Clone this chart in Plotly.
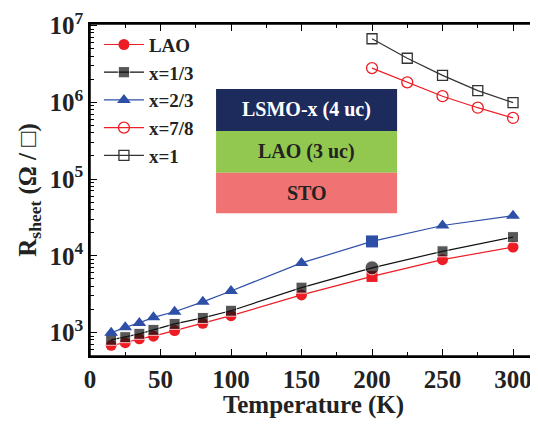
import plotly.graph_objects as go

temp_low = [15, 25, 35, 45, 60, 80, 100, 150, 200, 250, 300]
r_lao = [680, 736, 828, 897, 1060, 1318, 1656, 3090, 5380, 8900, 13000]
r_x13 = [804, 870, 962, 1083, 1295, 1550, 1923, 3845, 6970, 11430, 17500]
r_x23 = [990, 1170, 1334, 1578, 1866, 2510, 3480, 8070, 15380, 24800, 33300]

temp_high = [200, 225, 250, 275, 300]
r_x78 = [2.79e6, 1.82e6, 1.20e6, 8.5e5, 6.25e5]
r_x1 = [6.73e6, 3.75e6, 2.24e6, 1.42e6, 9.9e5]

x_ticks = [0, 50, 100, 150, 200, 250, 300]
y_ticks = [1e3, 1e4, 1e5, 1e6, 1e7]
y_ticktext = ["10<sup>3</sup>", "10<sup>4</sup>", "10<sup>5</sup>", "10<sup>6</sup>", "10<sup>7</sup>"]

layers = ["LSMO-x (4 uc)", "LAO (3 uc)", "STO"]

RED = "#ee1c25"
BLACK = "#111111"
BLUE = "#2e4fa8"
FONT = "Liberation Serif"
TXT = "#222222"

x_minor = [v + 25 for v in x_ticks]
y_minor = [m * 10 ** d for d in range(2, 7) for m in range(2, 10)]


def syms(base, alt):
    return [alt if t == 200 else base for t in temp_low]


fig = go.Figure()
fig.add_trace(go.Scatter(x=temp_low, y=r_lao, name="LAO", mode="lines+markers",
                         line=dict(color=RED, width=1.2),
                         marker=dict(symbol=syms("circle", "square"), size=11, color=RED)))
fig.add_trace(go.Scatter(x=temp_low, y=r_x13, name="x=1/3", mode="lines+markers",
                         line=dict(color=BLACK, width=1.2),
                         marker=dict(symbol=syms("square", "circle"),
                                     size=[14 if t == 200 else 11 for t in temp_low], color=BLACK)))
fig.add_trace(go.Scatter(x=temp_low, y=r_x23, name="x=2/3", mode="lines+markers",
                         line=dict(color=BLUE, width=1.2),
                         marker=dict(symbol=syms("triangle-up", "square"), size=12, color=BLUE)))
fig.add_trace(go.Scatter(x=temp_high, y=r_x78, name="x=7/8", mode="lines+markers",
                         line=dict(color=RED, width=1.2),
                         marker=dict(symbol="circle-open", size=11, color=RED, line=dict(width=1.3))))
fig.add_trace(go.Scatter(x=temp_high, y=r_x1, name="x=1", mode="lines+markers",
                         line=dict(color="#333333", width=1.2),
                         marker=dict(symbol="square-open", size=10, color="#333333", line=dict(width=1.3))))

# invisible first annotation (text measurement warm-up)
fig.add_annotation(xref="paper", yref="paper", x=0.5, y=0.5, text=" ", showarrow=False,
                   font=dict(family=FONT, size=20, weight="bold"))

# layer stack inset
box_colors = ["#1d2a5c", "#92c850", "#f07272"]
text_colors = ["white", TXT, TXT]
x0, x1 = 0.282, 0.687
tops = [0.804, 0.678, 0.552, 0.430]
for i, lab in enumerate(layers):
    fig.add_shape(type="rect", xref="paper", yref="paper", x0=x0, x1=x1,
                  y0=tops[i + 1], y1=tops[i], fillcolor=box_colors[i], line=dict(width=0))
    fig.add_annotation(xref="paper", yref="paper", x=(x0 + x1) / 2, y=(tops[i] + tops[i + 1]) / 2,
                       text=lab, showarrow=False, yanchor="middle",
                       font=dict(family=FONT, size=20, color=text_colors[i], weight="bold"))

# plot frame
fig.add_shape(type="rect", xref="paper", yref="paper", x0=0, x1=1, y0=0, y1=1,
              line=dict(color="black", width=1.5), fillcolor="rgba(0,0,0,0)")

axis_common = dict(showline=True, linecolor="#000000", linewidth=1.5,
                   ticks="inside", ticklen=7, tickwidth=1.3, tickcolor="#000000", mirror="allticks",
                   showgrid=False, zeroline=False, automargin=False, ticklabeloverflow="allow",
                   tickfont=dict(family=FONT, size=25, color=TXT, weight="bold"))

fig.update_xaxes(range=[0, 317], tickmode="array", tickvals=x_ticks,
                 title=dict(text="Temperature (K)", font=dict(family=FONT, size=25, color=TXT, weight="bold"), standoff=4),
                 minor=dict(ticks="inside", ticklen=4, tickwidth=1.2, tickcolor="black",
                            tickmode="array", tickvals=x_minor),
                 **axis_common)
fig.update_yaxes(type="log", range=[2.694, 7.02], tickmode="array", tickvals=y_ticks, ticktext=y_ticktext,
                 title=dict(text="R<sub>sheet</sub> (Ω / □)", font=dict(family=FONT, size=25, color=TXT, weight="bold"), standoff=6),
                 minor=dict(ticks="inside", ticklen=4, tickwidth=1.2, tickcolor="black",
                            tickmode="array", tickvals=y_minor),
                 **axis_common)

fig.update_layout(
    width=530, height=411,
    margin=dict(l=82, r=1, t=16, b=63),
    plot_bgcolor="white", paper_bgcolor="white",
    legend=dict(x=0.02, y=0.995, xanchor="left", yanchor="top", bgcolor="rgba(0,0,0,0)",
                font=dict(family=FONT, size=19, color=TXT, weight="bold"),
                itemwidth=40, tracegroupgap=0),
    showlegend=True,
)

fig.write_html("out.html")
